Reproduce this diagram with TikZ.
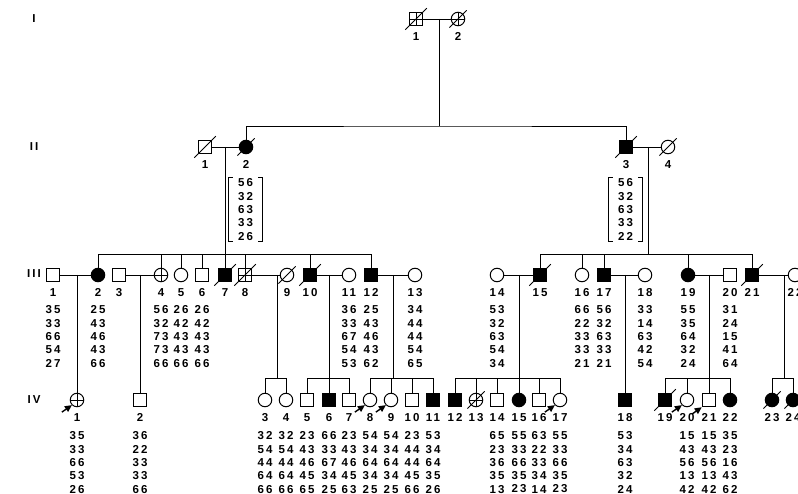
\documentclass[tikz,border=0pt]{standalone}
\usepackage{fontspec}
\newfontfamily\pedfont[LetterSpace=18]{Liberation Sans}
\usetikzlibrary{arrows.meta, positioning}

\begin{document}
\begin{tikzpicture}[
  x=1pt, y=-1pt,
  line/.style={line width=0.9pt},
  sym/.style={draw, line width=1pt, inner sep=0pt, minimum size=13.5pt, fill=white},
  male/.style={sym, rectangle},
  female/.style={sym, circle},
  maleaff/.style={male, fill=black},
  femaleaff/.style={female, fill=black},
  cross/.style={path picture={\draw[line width=0.8pt]
      (path picture bounding box.north) -- (path picture bounding box.south)
      (path picture bounding box.west) -- (path picture bounding box.east);}},
  malex/.style={male, cross},
  femalex/.style={female, cross},
  dead/.style={line width=1pt},
  txt/.style={font=\pedfont\bfseries\fontsize{11.5}{13.3}\selectfont, inner sep=0pt, align=center},
  idx/.style={txt},
  allele/.style={txt},
  bracket/.style={line width=1.1pt},
  proband/.style={line width=1.4pt, -{Triangle[length=7pt, width=6.5pt]}}
]
\useasboundingbox (0,0) rectangle (798,494);

% generation numerals
\node[txt] (genI) at (34,19) {I};
\node[txt] (genII) at (34,147) {II};
\node[txt] (genIII) at (34,274) {III};
\node[txt] (genIV) at (34,400) {IV};

% individuals
\foreach \n/\x/\s/\t in {g1-1/416/malex/1, g1-2/458/femalex/2} {
  \node[\s] (\n) at (\x,19) {};
  \node[idx, below=6.3pt of \n] (\n-l) {\t};
}
\foreach \n/\x/\s/\t in {g2-1/205/male/1, g2-2/246/femaleaff/2,
    g2-3/626/maleaff/3, g2-4/668/female/4} {
  \node[\s] (\n) at (\x,147) {};
  \node[idx, below=6.3pt of \n] (\n-l) {\t};
}
\foreach \n/\x/\s/\t in {g3-1/53/male/1, g3-2/98/femaleaff/2, g3-3/119/male/3,
    g3-4/161/femalex/4, g3-5/181/female/5, g3-6/202/male/6, g3-7/225/maleaff/7,
    g3-8/245/malex/8, g3-9/287/female/9, g3-10/310/maleaff/10, g3-11/349/female/11,
    g3-12/371/maleaff/12, g3-13/415/female/13, g3-14/497/female/14,
    g3-15/540/maleaff/15, g3-16/582/female/16, g3-17/604/maleaff/17,
    g3-18/645/female/18, g3-19/688/femaleaff/19, g3-20/730/male/20,
    g3-21/752/maleaff/21, g3-22/795/female/22} {
  \node[\s] (\n) at (\x,275) {};
  \node[idx, below=6.3pt of \n] (\n-l) {\t};
}
\foreach \n/\x/\s/\t in {g4-1/77/femalex/1, g4-2/140/male/2, g4-3/265/female/3,
    g4-4/286/female/4, g4-5/307/male/5, g4-6/329/maleaff/6, g4-7/349/male/7,
    g4-8/370/female/8, g4-9/391/female/9, g4-10/412/male/10, g4-11/433/maleaff/11,
    g4-12/455/maleaff/12, g4-13/476/femalex/13, g4-14/497/male/14,
    g4-15/519/femaleaff/15, g4-16/539/male/16, g4-17/560/female/17,
    g4-18/625/maleaff/18, g4-19/665/maleaff/19, g4-20/687/female/20,
    g4-21/709/male/21, g4-22/730/femaleaff/22, g4-23/772/femaleaff/23,
    g4-24/793/femaleaff/24} {
  \node[\s] (\n) at (\x,400) {};
  \node[idx, below=6.3pt of \n] (\n-l) {\t};
}

% deceased
\foreach \n in {g1-1,g1-2,g2-1,g2-2,g2-3,g2-4,g3-7,g3-8,g3-9,g3-10,g3-15,g3-21,
    g4-13,g4-19,g4-23,g4-24}
  \draw[dead] ([shift={(-3.5pt,-3.5pt)}]\n.south west) -- ([shift={(3.5pt,3.5pt)}]\n.north east);

% probands
\foreach \n in {g4-1,g4-8,g4-9,g4-17,g4-20,g4-21}
  \draw[proband] ([shift={(-10pt,-7pt)}]\n.south west) -- (\n.south west);

% marker genotypes
\node[allele, inner xsep=9pt, inner ysep=1pt] (br2) at (245.5,209.5) {56\\32\\63\\33\\26};
\node[allele, inner xsep=9pt, inner ysep=1pt] (br3) at (625.5,209.5) {56\\32\\63\\33\\22};
\draw[bracket] ([xshift=4pt]br2.north west) -- (br2.north west) -- (br2.south west) -- ++(4pt,0);
\draw[bracket] ([xshift=-4pt]br2.north east) -- (br2.north east) -- (br2.south east) -- ++(-4pt,0);
\draw[bracket] ([xshift=4pt]br3.north west) -- (br3.north west) -- (br3.south west) -- ++(4pt,0);
\draw[bracket] ([xshift=-4pt]br3.north east) -- (br3.north east) -- (br3.south east) -- ++(-4pt,0);

\coordinate (row3) at (0,336.5);
\coordinate (row4) at (0,462.5);
\foreach \n/\d in {g3-1/{35\\33\\66\\54\\27}, g3-2/{25\\43\\46\\43\\66},
    g3-4/{56\\32\\73\\73\\66}, g3-5/{26\\42\\43\\43\\66}, g3-6/{26\\42\\43\\43\\66},
    g3-11/{36\\33\\67\\54\\53}, g3-12/{25\\43\\46\\43\\62}, g3-13/{34\\44\\44\\54\\65},
    g3-14/{53\\32\\63\\54\\34}, g3-16/{66\\22\\33\\33\\21}, g3-17/{56\\32\\63\\33\\21},
    g3-18/{33\\14\\63\\42\\54}, g3-19/{55\\35\\64\\32\\24}, g3-20/{31\\24\\15\\41\\64}}
  \node[allele] (d\n) at (\n |- row3) {\d};
\foreach \n/\d in {g4-1/{35\\33\\66\\53\\26}, g4-2/{36\\22\\33\\33\\66},
    g4-3/{32\\54\\44\\64\\66}, g4-4/{32\\54\\44\\64\\66}, g4-5/{23\\43\\46\\45\\65},
    g4-6/{66\\33\\67\\34\\25}, g4-7/{23\\43\\46\\45\\63}, g4-8/{54\\34\\64\\34\\25},
    g4-9/{54\\34\\64\\34\\25}, g4-10/{23\\44\\44\\45\\66}, g4-11/{53\\34\\64\\35\\26},
    g4-14/{65\\23\\36\\35\\13}, g4-15/{55\\33\\66\\35\\23}, g4-16/{63\\22\\33\\34\\14},
    g4-17/{55\\33\\66\\35\\23}, g4-18/{53\\34\\63\\32\\24}, g4-20/{15\\43\\56\\13\\42},
    g4-21/{15\\43\\56\\13\\42}, g4-22/{35\\23\\16\\43\\62}}
  \node[allele] (d\n) at (\n |- row4) {\d};

% generation I -> II
\coordinate (m1) at (439,19);
\coordinate (s2) at (439,126);
\draw[line] (g1-1) -- (g1-2);
\draw[line] (m1) -- (s2);
\draw[line] (g2-2) |- (s2) -| (g2-3);

% generation II -> III
\draw[line] (g2-1) -- (g2-2);
\draw[line] (g2-3) -- (g2-4);
\coordinate (m2a) at (225,147);
\coordinate (s3a) at (225,254);
\coordinate (m2b) at (648,147);
\coordinate (s3b) at (648,254);
\draw[line] (m2a) -- (s3a);
\draw[line] (m2b) -- (s3b);
\draw[line] (g3-2 |- s3a) -- (g3-12 |- s3a);
\draw[line] (g3-15 |- s3b) -- (g3-21 |- s3b);
\foreach \c in {g3-2,g3-4,g3-5,g3-6,g3-7,g3-8,g3-10,g3-12}
  \draw[line] (\c) -- (\c |- s3a);
\foreach \c in {g3-15,g3-16,g3-17,g3-19,g3-21}
  \draw[line] (\c) -- (\c |- s3b);

% generation III -> IV
\draw[line] (g3-1) -- (g3-2);
\draw[line] (g3-3) -- (g3-4);
\draw[line] (g3-8) -- (g3-9);
\draw[line] (g3-10) -- (g3-11);
\draw[line] (g3-12) -- (g3-13);
\draw[line] (g3-14) -- (g3-15);
\draw[line] (g3-17) -- (g3-18);
\draw[line] (g3-19) -- (g3-20);
\draw[line] (g3-21) -- (g3-22);

\coordinate (m3a) at (77,275);
\coordinate (m3b) at (140,275);
\coordinate (m3g) at (625,275);
\draw[line] (m3a) -- (g4-1);
\draw[line] (m3b) -- (g4-2);
\draw[line] (m3g) -- (g4-18);

\foreach \m/\x/\first/\last in {c/277/g4-3/g4-4, d/329/g4-5/g4-7, e/393/g4-8/g4-11,
    f/519/g4-12/g4-17, h/709/g4-19/g4-22, i/784/g4-23/g4-24} {
  \coordinate (m3\m) at (\x,275);
  \coordinate (s4\m) at (\x,378);
  \draw[line] (m3\m) -- (s4\m);
  \draw[line] (\first |- s4\m) -- (\last |- s4\m);
}
\foreach \c/\m in {g4-3/c,g4-4/c,g4-5/d,g4-6/d,g4-7/d,g4-8/e,g4-9/e,g4-10/e,g4-11/e,
    g4-12/f,g4-13/f,g4-14/f,g4-15/f,g4-16/f,g4-17/f,g4-19/h,g4-20/h,g4-21/h,g4-22/h,
    g4-23/i,g4-24/i}
  \draw[line] (\c) -- (\c |- s4\m);
\end{tikzpicture}
\end{document}
